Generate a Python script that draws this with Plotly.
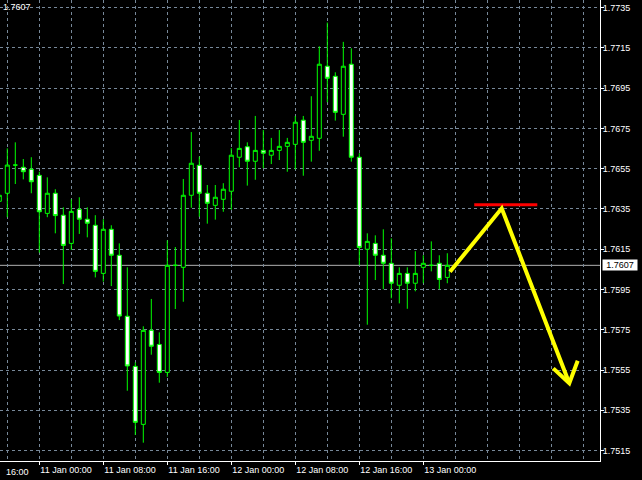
import plotly.graph_objects as go
import pandas as pd

# ---- data (H1 candles, 10 Jan 19:00 .. 13 Jan 03:00) ----
times = pd.date_range("2017-01-10 19:00", periods=57, freq="h")

opens = [1.76388, 1.76428, 1.76568, 1.76557, 1.76547, 1.76517, 1.76328, 1.76428, 1.76319, 1.76179,
         1.76348, 1.76299, 1.76269, 1.76030, 1.76249, 1.76120, 1.75817, 1.75568, 1.75280, 1.75747,
         1.75677, 1.75538, 1.76070, 1.76060, 1.76418, 1.76567, 1.76428, 1.76368, 1.76398, 1.76438,
         1.76607, 1.76659, 1.76587, 1.76641, 1.76617, 1.76641, 1.76661, 1.76671, 1.76791, 1.76691,
         1.76701, 1.77059, 1.77009, 1.76820, 1.77069, 1.76607, 1.76150, 1.76179, 1.76120, 1.76080,
         1.75971, 1.76030, 1.75981, 1.76060, 1.76070, 1.76080, 1.76010]
highs = [1.76444, 1.76651, 1.76681, 1.76598, 1.76607, 1.76535, 1.76507, 1.76448, 1.76358, 1.76398,
         1.76408, 1.76358, 1.76319, 1.76299, 1.76269, 1.76179, 1.76060, 1.75588, 1.75767, 1.75903,
         1.75737, 1.76194, 1.76161, 1.76499, 1.76732, 1.76610, 1.76469, 1.76469, 1.76478, 1.76652,
         1.76792, 1.76681, 1.76812, 1.76742, 1.76703, 1.76742, 1.76703, 1.76812, 1.76812, 1.76910,
         1.77158, 1.77276, 1.77029, 1.77180, 1.77148, 1.76627, 1.76229, 1.76219, 1.76249, 1.76204,
         1.76060, 1.76060, 1.76140, 1.76120, 1.76189, 1.76120, 1.76130]
lows = [1.76365, 1.76309, 1.76474, 1.76497, 1.76428, 1.76133, 1.76309, 1.76229, 1.75977, 1.76146,
        1.76226, 1.76209, 1.76010, 1.75989, 1.75967, 1.75798, 1.75447, 1.75227, 1.75189, 1.75626,
        1.75487, 1.75516, 1.75853, 1.75889, 1.76356, 1.76311, 1.76277, 1.76297, 1.76336, 1.76346,
        1.76557, 1.76466, 1.76495, 1.76552, 1.76573, 1.76593, 1.76535, 1.76546, 1.76515, 1.76585,
        1.76639, 1.76880, 1.76789, 1.76709, 1.76585, 1.76071, 1.75775, 1.75997, 1.75951, 1.75906,
        1.75881, 1.75854, 1.75941, 1.75981, 1.76040, 1.75951, 1.75981]
closes = [1.76418, 1.76568, 1.76568, 1.76535, 1.76485, 1.76336, 1.76428, 1.76317, 1.76169, 1.76338,
          1.76299, 1.76279, 1.76040, 1.76249, 1.76120, 1.75818, 1.75570, 1.75290, 1.75747, 1.75668,
          1.75538, 1.76070, 1.76070, 1.76418, 1.76577, 1.76428, 1.76378, 1.76408, 1.76448, 1.76617,
          1.76651, 1.76587, 1.76641, 1.76627, 1.76641, 1.76661, 1.76681, 1.76781, 1.76681, 1.76711,
          1.77069, 1.76999, 1.76830, 1.77059, 1.76607, 1.76159, 1.76189, 1.76120, 1.76080, 1.75981,
          1.76030, 1.75981, 1.76030, 1.76080, 1.76070, 1.76000, 1.76070]

current_price = 1.7607
current_label = "1.7607"

ytick_vals = [1.7515, 1.7535, 1.7555, 1.7575, 1.7595, 1.7615, 1.7635, 1.7655, 1.7675, 1.7695, 1.7715, 1.7735]
ytick_text = ["1.7515", "1.7535", "1.7555", "1.7575", "1.7595", "1.7615", "1.7635", "1.7655",
              "1.7675", "1.7695", "1.7715", "1.7735"]

xtick_vals = ["2017-01-11 00:00", "2017-01-11 08:00", "2017-01-11 16:00", "2017-01-12 00:00",
              "2017-01-12 08:00", "2017-01-12 16:00", "2017-01-13 00:00"]
xtick_text = ["11 Jan 00:00", "11 Jan 08:00", "11 Jan 16:00", "12 Jan 00:00",
              "12 Jan 08:00", "12 Jan 16:00", "13 Jan 00:00"]
xgrid_minor = ["2017-01-10 20:00", "2017-01-11 04:00", "2017-01-11 12:00", "2017-01-11 20:00",
               "2017-01-12 04:00", "2017-01-12 12:00", "2017-01-12 20:00", "2017-01-13 04:00",
               "2017-01-13 08:00", "2017-01-13 12:00", "2017-01-13 16:00", "2017-01-13 20:00"]

# drawn objects (forecast zig-zag arrow and resistance line)
arrow_x = ["2017-01-13 03:20", "2017-01-13 09:48", "2017-01-13 18:15"]
arrow_y = [1.76038, 1.76353, 1.75484]
head_x = ["2017-01-13 16:15", "2017-01-13 18:15", "2017-01-13 19:18"]
head_y = [1.75558, 1.75484, 1.75596]
level_x = ["2017-01-13 06:22", "2017-01-13 14:15"]
level_y = [1.76371, 1.76371]

x_range = ["2017-01-10 19:05:15", "2017-01-13 22:05:15"]
y_range = [1.75098, 1.77388]

FONT = "Liberation Sans"
GRID = "#778899"

fig = go.Figure()
fig.add_trace(go.Candlestick(
    x=times, open=opens, high=highs, low=lows, close=closes,
    increasing=dict(line=dict(color="#00FF00", width=1), fillcolor="#000000"),
    decreasing=dict(line=dict(color="#00FF00", width=1), fillcolor="#FFFFFF"),
    whiskerwidth=0, hoverinfo="skip", showlegend=False,
))
fig.add_trace(go.Scatter(x=level_x, y=level_y, mode="lines",
                         line=dict(color="#FF0000", width=3), hoverinfo="skip", showlegend=False))
fig.add_trace(go.Scatter(x=arrow_x, y=arrow_y, mode="lines",
                         line=dict(color="#FFFF00", width=4), hoverinfo="skip", showlegend=False))
fig.add_trace(go.Scatter(x=head_x, y=head_y, mode="lines",
                         line=dict(color="#FFFF00", width=4), hoverinfo="skip", showlegend=False))

fig.add_shape(type="line", xref="paper", x0=0, x1=1, yref="y", y0=current_price, y1=current_price,
              line=dict(color="#B0B0B0", width=1), layer="below")

fig.add_annotation(xref="paper", x=1, yref="y", y=current_price, text=current_label,
                   xanchor="left", yanchor="middle", xshift=2, showarrow=False,
                   width=34, height=10, align="center",
                   bgcolor="#FFFFFF", borderpad=0, font=dict(family=FONT, size=9, color="#000000"))
fig.add_annotation(xref="paper", x=0, yref="paper", y=1, text=current_label,
                   xanchor="left", yanchor="top", xshift=1, showarrow=False,
                   font=dict(family=FONT, size=9, color="#FFFFFF"))
fig.add_annotation(xref="paper", x=4 / 600, yref="paper", y=0, text="16:00",
                   xanchor="left", yanchor="top", yshift=-4, showarrow=False,
                   font=dict(family=FONT, size=9, color="#FFFFFF"))

fig.update_layout(
    width=642, height=480,
    margin=dict(l=0, r=42, t=0, b=19, autoexpand=False),
    paper_bgcolor="#000000", plot_bgcolor="#000000",
    boxgap=0.5, boxgroupgap=0,
    hovermode=False, showlegend=False,
    xaxis=dict(
        type="date", range=x_range, rangeslider=dict(visible=False),
        tickmode="array", tickvals=xtick_vals, ticktext=xtick_text,
        ticks="outside", ticklen=3, tickcolor="#FFFFFF", ticklabelposition="outside right",
        tickfont=dict(family=FONT, size=9, color="#FFFFFF"),
        showline=True, linecolor="#FFFFFF", linewidth=1,
        showgrid=True, gridcolor=GRID, griddash="3px,3px", gridwidth=1,
        minor=dict(tickmode="array", tickvals=xgrid_minor, showgrid=True, gridcolor=GRID,
                   griddash="3px,3px", gridwidth=1, ticks=""),
        zeroline=False, fixedrange=True, automargin=False,
    ),
    yaxis=dict(
        side="right", range=y_range,
        tickmode="array", tickvals=ytick_vals, ticktext=ytick_text,
        ticks="outside", ticklen=3, tickcolor="#FFFFFF", ticklabelstandoff=-3,
        tickfont=dict(family=FONT, size=9, color="#FFFFFF"),
        showline=True, linecolor="#FFFFFF", linewidth=1,
        showgrid=True, gridcolor=GRID, griddash="3px,3px", gridwidth=1,
        zeroline=False, fixedrange=True, automargin=False,
    ),
)

fig.write_html(
    "out.html",
    config={"displayModeBar": False, "staticPlot": True},
    post_script="document.body.style.margin='0';document.body.style.padding='0';"
                "document.documentElement.style.overflow='hidden';",
)
